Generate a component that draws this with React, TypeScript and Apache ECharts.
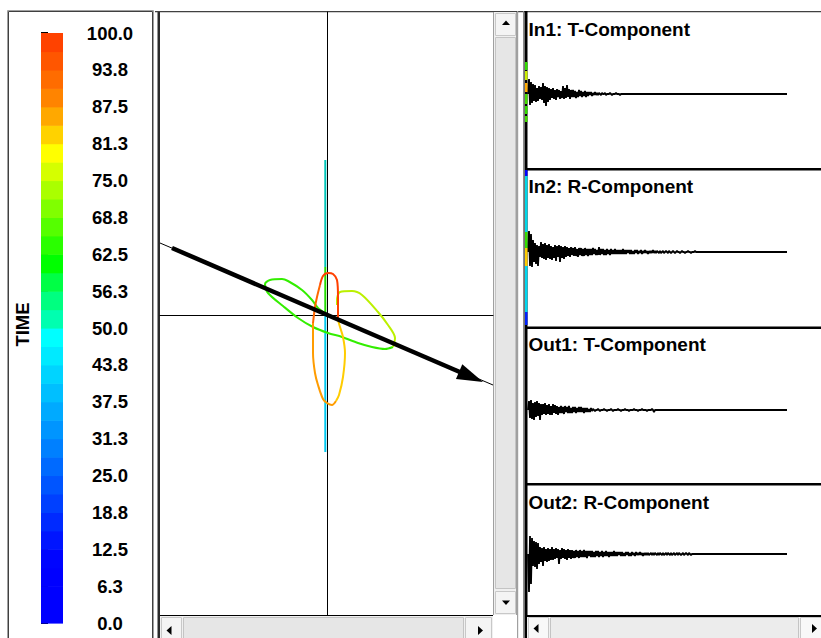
import React, { useEffect, useRef } from 'react';
import * as echarts from 'echarts';

// ---------- Colour scale (TIME) ----------
const timeMin = 0;
const timeMax = 100;
const timeInterval = 6.25;
const timeTickLabels = ['0.0', '6.3', '12.5', '18.8', '25.0', '31.3', '37.5', '43.8', '50.0', '56.3', '62.5', '68.8', '75.0', '81.3', '87.5', '93.8', '100.0'];
// 32 bands, bottom (0) to top (100)
const bandColors = [
  '#0000ff', '#0000ff', '#0000ff', '#0004ff', '#0015ff', '#002aff', '#0040ff', '#0055ff',
  '#006aff', '#0080ff', '#0095ff', '#00aaff', '#00bfff', '#00d4ff', '#00eaff', '#00ffff',
  '#00ffb0', '#00ff80', '#00ff45', '#00ff00', '#2aff00', '#55ff00', '#80ff00', '#aaff00',
  '#d5ff00', '#ffff00', '#ffd200', '#ffa800', '#ff8400', '#ff6c00', '#ff5600', '#ff4200',
];

// ---------- Particle motion (hodogram) ----------
const pmGreen = [[-2, 2], [-9, 7], [-15, 15], [-25, 25], [-39, 34], [-45, 36], [-57, 35], [-62, 31], [-59, 22], [-44, 9], [-29, -3], [-14, -12], [1, -18], [15, -22], [31, -28], [45, -32], [58, -34], [66, -32]];
const pmYellowGreen = [[66, -32], [68, -23], [61, -10], [51, 3], [35, 20], [25, 24], [13, 23], [10, 15], [10, 10]];
const pmRed = [[11, -5], [11, 18], [10, 35], [6, 41], [1, 42], [-4, 39], [-7, 30]];
const pmOrangeRed = [[-7, 30], [-10, 18], [-12, 8], [-14, -8]];
const pmOrange = [[-14, -8], [-14, -38], [-12, -58], [-9, -70], [-4, -84], [0, -88], [5, -90], [9, -86]];
const pmYellow = [[9, -86], [12, -80], [16, -62], [18, -38], [16, -22], [13, -12], [11, -5]];
const pmVertTop = [[-1.7, 155], [-1.7, 48]];
const pmVertMid = [[-1.7, 48], [-1.7, 0]];
const pmVertLow = [[-1.7, 0], [-1.7, -137]];
const pmDirection = [[-167, 72], [166, -70]];
const pmArrow = [[-155, 67, 156, -67]];

// ---------- Seismogram traces (amplitude per 1-px sample) ----------
const traceEnd = 259;
const in1Trace = [0, 15, -11, 12, -9, 10, -7, 9, -8, 6, -7, 8, -5, 7, -6, 11, -9, 8, -12, 7, -8, 6, -6, 5, -4, 6, -5, 4, -6, 5, -3, 4, -5, 3, -4, 8, -5, 6, -4, 9, -3, 5, -5, 4, -3, 4, -3, 3, -4, 2, -3, 4, -2, 3, -3, 2, -2, 3, -3, 2, -2, 2, -1, 2, -2, 1, -1, 2, -1, 1, -1, 1, 0, -1, 1, 0, 0, 1, -1, 0, 0, 0, 1, 0, -1, 0, 0, 0, 1, 0, 0, 0, -1, 0, 0, 0];
const in2Trace = [0, 21, -14, 18, -15, 12, -10, 9, -12, 7, -14, 6, -5, 10, -6, 8, -7, 9, -8, 7, -6, 8, -7, 6, -8, 5, -6, 7, -9, 6, -5, 7, -10, 6, -6, 5, -7, 6, -5, 5, -4, 4, -5, 5, -3, 4, -4, 5, -4, 3, -5, 4, -3, 4, -4, 3, -4, 4, -3, 3, -4, 3, -3, 3, -3, 4, -2, 3, -3, 2, -3, 5, -3, 3, -2, 3, -3, 2, -3, 3, -2, 2, -3, 3, -2, 2, -2, 3, -2, 2, -2, 2, -2, 2, -2, 3, -2, 2, -2, 2, -1, 2, -2, 2, -2, 1, -2, 2, -1, 2, -2, 1, -1, 2, -2, 1, -1, 2, -1, 1, -2, 1, -1, 1, -1, 2, -1, 1, -1, 1, 0, -1, 1, -1, 0, 1, -1, 0, 1, 0, -1, 1, 0, -1, 0, 1, 0, -1, 0, 1, 0, 0, -1, 0, 1, 0, 0, -1, 0, 0, 1, 0, 0, -1, 0, 0, 0, 1, 0];
const out1Trace = [0, 9, -8, 10, -9, 7, -10, 8, -7, 9, -6, 7, -10, 6, -5, 6, -4, 7, -5, 5, -4, 6, -5, 4, -5, 6, -3, 5, -4, 4, -5, 3, -3, 4, -3, 3, -4, 4, -2, 3, -3, 4, -3, 2, -3, 3, -2, 3, -3, 2, -2, 3, -2, 3, -2, 2, -3, 2, -2, 2, -2, 1, -2, 2, -1, 1, 0, -1, 0, 0, 1, 0, -1, 0, 0, 0, 1, 0, 0, -1, 0, 0, 0, 1, 0, -1, 0, 0, 0, 0, 1, 0, 0, -1, 0, 0, 0, 1, 0, 0, 0, -1, 0, 0, 0, 0, 1, 0, 0, 0, -1, 0, 0, 0, 1, 0, 0, 0, 0, -1, 0, 0, 0, 0, 1, 0, -2, 0, 0];
const out2Trace = [0, -38, 18, -30, 16, -12, 13, -13, 12, -15, 11, -10, 7, -8, 6, -12, 7, -7, 5, -8, 6, -7, 5, -6, 7, -6, 5, -5, 6, -4, 5, -10, 4, -5, 6, -4, 5, -5, 4, -6, 5, -4, 4, -5, 4, -4, 3, -4, 4, -3, 3, -4, 4, -3, 3, -3, 4, -3, 3, -4, 3, -2, 3, -3, 3, -3, 2, -3, 3, -2, 3, -3, 2, -2, 3, -3, 2, -2, 3, -2, 2, -3, 2, -2, 2, -2, 3, -2, 2, -2, 2, -1, 2, -2, 2, -2, 1, -2, 2, -1, 2, -2, 1, -2, 2, -1, 1, -2, 2, -1, 1, -1, 2, -1, 1, -2, 1, -1, 1, -1, 1, -1, 0, 1, -1, 1, -1, 1, 0, -1, 1, -1, 1, 0, -1, 1, -1, 0, 1, -1, 1, 0, -1, 1, -1, 0, 1, -1, 0, 1, -1, 1, 0, -1, 0, 1, -1, 0, 1, 0, -1, 1, 0, -1, 0];
const traceTitles = ['In1: T-Component', 'In2: R-Component', 'Out1: T-Component', 'Out2: R-Component'];

// time-window colour markers on the left edge of the first two traces (amplitude units)
const in1Strip = [[32, 24], [23, 14], [11, 2], [0, -10], [-12, -20], [-22, -28]];
const in1StripColors = ['#33dd00', '#ccee00', '#ffaa00', '#44dd00', '#33dd00', '#44dd00'];
const in2Strip = [[82, 76], [76, 20], [20, 4], [4, -14], [-14, -60], [-60, -73]];
const in2StripColors = ['#0000ff', '#00d8e8', '#33dd00', '#ffcc00', '#00d8f0', '#0022ff'];

// ---------- layout ----------
const FONT = '"Liberation Sans", Arial, Helvetica, sans-serif';
const traceBaselines = [94, 252, 410, 554];
const titleYs = [29, 186.5, 344, 502];

function toXY(arr: number[]) {
  return arr.map((v, i) => [i, v]).concat([[traceEnd, 0]]);
}

function tri(points: number[][]) {
  return { type: 'polygon', shape: { points }, style: { fill: '#000' }, silent: true };
}
function box(x: number, y: number, w: number, h: number, fill: string, stroke?: string) {
  return {
    type: 'rect', shape: { x, y, width: w, height: h }, silent: true,
    style: { fill, stroke: stroke || 'none', lineWidth: 1 },
  };
}

export default function App() {
  const ref = useRef<HTMLDivElement>(null);
  useEffect(() => {
    document.body.style.margin = '0';
    const chart = echarts.init(ref.current!, null, { renderer: 'svg' });
    const bandStep = (timeMax - timeMin) / bandColors.length;

    const pmLine = (data: number[][], color: string, width = 2) => ({
      type: 'line', xAxisIndex: 1, yAxisIndex: 1, data, symbol: 'none', smooth: 0.3,
      lineStyle: { color, width }, silent: true, z: 3,
    });

    const stripSeries = (strip: number[][], colors: string[], axis: number) => ({
      type: 'custom', xAxisIndex: axis, yAxisIndex: axis, clip: false, silent: true, z: 5,
      data: strip.map((s, i) => [s[0], s[1], i]),
      renderItem: (params: any, api: any) => {
        const a = api.coord([-3, api.value(0)]);
        const b = api.coord([-0.5, api.value(1)]);
        return {
          type: 'rect',
          shape: { x: a[0], y: a[1], width: b[0] - a[0], height: b[1] - a[1] },
          style: { fill: colors[api.value(2)] },
        };
      },
    });

    const graphics: any[] = [
      // left panel frame
      box(7.5, 10.5, 146, 640, 'none', '#a0a0a0'),
      box(8.5, 11.5, 144, 640, 'none', '#404040'),
      // centre panel frame
      box(157.5, 11, 2.5, 627, '#2a2a2a'),
      box(155, 11, 666, 1.3, '#404040'),
      box(160, 615, 333, 1, '#000'),
      // vertical scrollbar
      box(493, 12, 24, 603, '#f0f0f0'),
      box(493, 12, 1, 603, '#a0a0a0'),
      box(516, 12, 1, 603, '#a0a0a0'),
      box(495.5, 13.5, 20, 22, '#f4f4f4', '#c8c8c8'),
      box(495.5, 37.5, 20, 551, '#e6e6e6', '#c4c4c4'),
      box(495.5, 591.5, 20, 22, '#f4f4f4', '#c8c8c8'),
      tri([[502, 25], [510, 25], [506, 20.5]]),
      tri([[502, 600.5], [510, 600.5], [506, 605]]),
      // centre horizontal scrollbar
      box(160, 616, 333, 22, '#f0f0f0'),
      box(161.5, 617.5, 20, 21, '#f4f4f4', '#c8c8c8'),
      box(183.5, 617.5, 280, 21, '#e6e6e6', '#c4c4c4'),
      box(465.5, 617.5, 26, 21, '#f4f4f4', '#c8c8c8'),
      tri([[171.5, 626], [171.5, 635], [166.5, 630.5]]),
      tri([[478, 626], [478, 635], [483, 630.5]]),
      box(493, 615, 24, 23, '#ffffff'),
      // separators between centre and right
      box(517, 11, 1.2, 627, '#a0a0a0'),
      box(523, 11, 1.2, 627, '#8a8a8a'),
      box(524.5, 11, 3, 627, '#000'),
      // right panels separators
      box(527, 168, 294, 2.5, '#000'),
      box(527, 326.5, 294, 2.5, '#000'),
      box(527, 483, 294, 2.5, '#000'),
      box(527, 615, 294, 2, '#000'),
      // right horizontal scrollbar
      box(527, 617, 294, 21, '#f0f0f0'),
      box(528.5, 617.5, 20, 21, '#f8f8f8', '#c8c8c8'),
      box(550.5, 617.5, 248, 21, '#ececec', '#c4c4c4'),
      box(800.5, 617.5, 21, 21, '#f8f8f8', '#c8c8c8'),
      tri([[538.5, 624], [538.5, 633], [533.5, 628.5]]),
      tri([[812, 624], [812, 633], [817, 628.5]]),
      // colour bar title
      {
        type: 'text', x: 22, y: 324.5, rotation: Math.PI / 2, silent: true,
        style: {
          text: 'TIME', fill: '#000', fontSize: 18.5, fontWeight: 'bold', fontFamily: FONT,
          align: 'center', verticalAlign: 'middle',
        },
      },
      ...traceTitles.map((t, i) => ({
        type: 'text', x: 528.5, y: titleYs[i], silent: true,
        style: {
          text: t, fill: '#000', fontSize: 19, fontWeight: 'bold', fontFamily: FONT,
          align: 'left', verticalAlign: 'middle',
        },
      })),
    ];

    const option: any = {
      animation: false,
      backgroundColor: '#ffffff',
      grid: [
        { left: 41, top: 33, width: 22, height: 590 },
        { left: 160, top: 12, width: 333, height: 603 },
        ...traceBaselines.map((b) => ({ left: 528, top: b - 45, width: 259, height: 90 })),
      ],
      xAxis: [
        { gridIndex: 0, type: 'value', min: 0, max: 1, show: false },
        {
          gridIndex: 1, type: 'value', min: -167, max: 166,
          axisLine: { show: true, onZero: true, lineStyle: { color: '#000', width: 1 } },
          axisTick: { show: false }, axisLabel: { show: false }, splitLine: { show: false },
        },
        ...traceBaselines.map((_, i) => ({ gridIndex: i + 2, type: 'value', min: 0, max: traceEnd, show: false })),
      ],
      yAxis: [
        {
          gridIndex: 0, type: 'value', min: timeMin, max: timeMax, interval: timeInterval, position: 'right',
          axisLine: { show: false },
          axisTick: { show: true, length: 7, lineStyle: { color: '#000', width: 2 } },
          splitLine: { show: false },
          axisLabel: {
            show: true, margin: 47, align: 'center', color: '#000', fontSize: 18.5, fontWeight: 'bold',
            fontFamily: FONT, padding: [3, 0, 0, 0],
            formatter: (v: number) => timeTickLabels[Math.round((v - timeMin) / timeInterval)],
          },
        },
        {
          gridIndex: 1, type: 'value', min: -300, max: 303,
          axisLine: { show: true, onZero: true, lineStyle: { color: '#000', width: 1 } },
          axisTick: { show: false }, axisLabel: { show: false }, splitLine: { show: false },
        },
        ...traceBaselines.map((_, i) => ({ gridIndex: i + 2, type: 'value', min: -45, max: 45, show: false })),
      ],
      series: [
        {
          type: 'custom', xAxisIndex: 0, yAxisIndex: 0, silent: true, clip: false,
          data: bandColors.map((c, i) => [timeMin + i * bandStep, timeMin + (i + 1) * bandStep, i]),
          renderItem: (params: any, api: any) => {
            const a = api.coord([0, api.value(0)]);
            const b = api.coord([1, api.value(1)]);
            return {
              type: 'rect',
              shape: { x: a[0], y: b[1], width: b[0] - a[0], height: a[1] - b[1] + 0.6 },
              style: { fill: bandColors[api.value(2)], stroke: 'none' },
            };
          },
        },
        pmLine(pmVertTop, '#00c4b8', 2),
        pmLine(pmVertMid, '#22dd00', 2),
        pmLine(pmVertLow, '#00c8f0', 2),
        pmLine(pmGreen, '#33ee00'),
        pmLine(pmYellowGreen, '#bbf000'),
        pmLine(pmRed, '#ff4000'),
        pmLine(pmOrangeRed, '#ff6600'),
        pmLine(pmOrange, '#ff9c00'),
        pmLine(pmYellow, '#ffcc00'),
        {
          type: 'line', xAxisIndex: 1, yAxisIndex: 1, data: pmDirection, symbol: 'none',
          lineStyle: { color: '#000', width: 1 }, silent: true, z: 4,
        },
        {
          type: 'custom', xAxisIndex: 1, yAxisIndex: 1, silent: true, clip: false, z: 5,
          data: pmArrow,
          renderItem: (params: any, api: any) => {
            const p0 = api.coord([api.value(0), api.value(1)]);
            const p1 = api.coord([api.value(2), api.value(3)]);
            const dx = p1[0] - p0[0];
            const dy = p1[1] - p0[1];
            const len = Math.hypot(dx, dy);
            const ux = dx / len;
            const uy = dy / len;
            const headLen = 26;
            const headHalf = 8;
            const bx = p1[0] - ux * headLen;
            const by = p1[1] - uy * headLen;
            return {
              type: 'group',
              children: [
                {
                  type: 'line',
                  shape: { x1: p0[0], y1: p0[1], x2: bx + ux * 2, y2: by + uy * 2 },
                  style: { stroke: '#000', lineWidth: 4.5 },
                },
                {
                  type: 'polygon',
                  shape: { points: [[p1[0], p1[1]], [bx - uy * headHalf, by + ux * headHalf], [bx + uy * headHalf, by - ux * headHalf]] },
                  style: { fill: '#000' },
                },
              ],
            };
          },
        },
        ...[in1Trace, in2Trace, out1Trace, out2Trace].map((tr, i) => ({
          type: 'line', xAxisIndex: i + 2, yAxisIndex: i + 2, data: toXY(tr), symbol: 'none',
          lineStyle: { color: '#000', width: 1.8 }, silent: true, z: 3,
        })),
        stripSeries(in1Strip, in1StripColors, 2),
        stripSeries(in2Strip, in2StripColors, 3),
      ],
      graphic: graphics,
    };
    chart.setOption(option);
    return () => chart.dispose();
  }, []);
  return <div ref={ref} style={{ width: 821, height: 638 }} />;
}
